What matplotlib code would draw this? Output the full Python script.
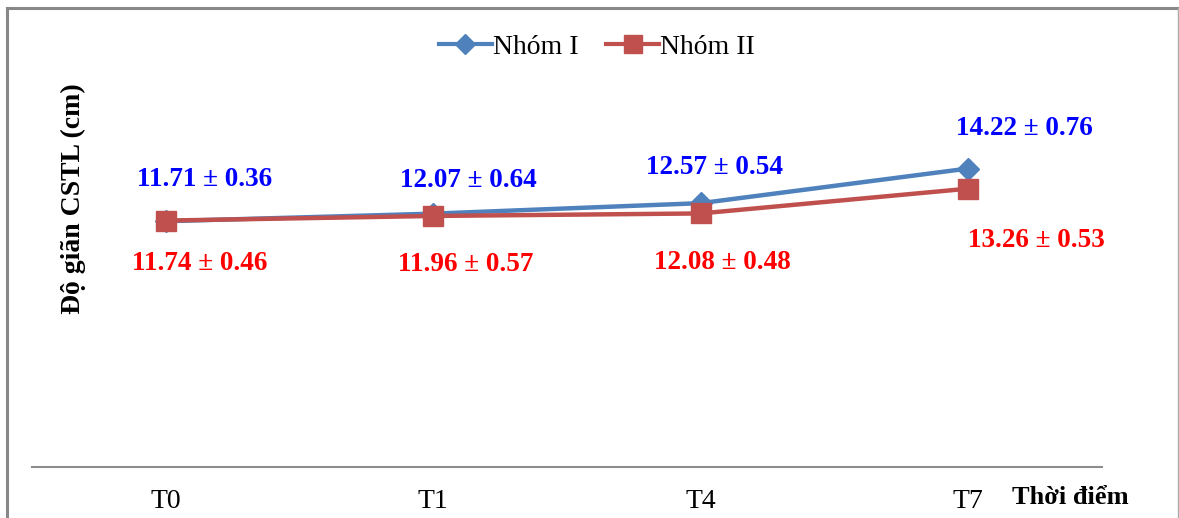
import numpy as np
import matplotlib
matplotlib.use("Agg")
import matplotlib.pyplot as plt
from matplotlib.lines import Line2D

# du lieu
thoi_diem = ["T0", "T1", "T4", "T7"]
nhom1 = [11.71, 12.07, 12.57, 14.22]
nhom1_sd = [0.36, 0.64, 0.54, 0.76]
nhom2 = [11.74, 11.96, 12.08, 13.26]
nhom2_sd = [0.46, 0.57, 0.48, 0.53]

# vi tri nhan (pixel lech so voi diem)
off1 = [(39, 42), (35, 33), (14, 36), (56, 40)]
off2 = [(34, -43), (32, -49), (22, -49), (68, -52)]

plt.rcParams['font.family'] = ['Liberation Serif', 'DejaVu Serif']

W, H = 1179, 518
fig = plt.figure(figsize=(W / 100, H / 100), dpi=100)
ax = fig.add_axes([32 / W, (H - 467) / H, (1102 - 32) / W, (467 - 43) / H])

x = np.arange(len(thoi_diem))
ax.plot(x, nhom1, color='#4F81BD', lw=3.2, marker='D', ms=11.5,
        markeredgecolor='#4F81BD', label='Nhóm I', zorder=3)
ax.plot(x, nhom2, color='#C0504D', lw=3.2, marker='s', ms=14,
        markeredgecolor='#C0504D', label='Nhóm II', zorder=4)

for i in range(len(x)):
    ax.annotate(f"{nhom1[i]:.2f} ± {nhom1_sd[i]:.2f}", (x[i], nhom1[i]),
                xytext=off1[i], textcoords='offset pixels', ha='center', va='center',
                color='#0000FF', fontsize=19.5, fontweight='bold')
    ax.annotate(f"{nhom2[i]:.2f} ± {nhom2_sd[i]:.2f}", (x[i], nhom2[i]),
                xytext=off2[i], textcoords='offset pixels', ha='center', va='center',
                color='#FF0000', fontsize=19.5, fontweight='bold')

ax.set_xlim(-0.5, len(x) - 0.5)
ax.set_ylim(0, 20.2)
ax.set_xticks(x)
ax.set_xticklabels(thoi_diem, fontsize=20)
ax.tick_params(axis='x', length=0, pad=16)
ax.set_yticks([])
for s in ['top', 'right', 'left']:
    ax.spines[s].set_visible(False)
ax.spines['bottom'].set_color('#8C8C8C')
ax.spines['bottom'].set_linewidth(1.5)

fig.text(73 / W, 1 - 199 / H, "Độ giãn CSTL (cm)", rotation=90, ha='center', va='center',
         fontsize=20, fontweight='bold')
fig.text(1070 / W, 1 - 497 / H, "Thời điểm", ha='center', va='center',
         fontsize=19, fontweight='bold')

handles = [Line2D([], [], color='#4F81BD', lw=3, marker='D', ms=10),
           Line2D([], [], color='#C0504D', lw=3, marker='s', ms=13)]
fig.legend(handles, ['Nhóm I', 'Nhóm II'], loc='center', bbox_to_anchor=(597 / W, 1 - 47 / H),
           ncol=2, frameon=False, fontsize=20, handlelength=1.9, handletextpad=0.05,
           columnspacing=1.0)

# khung vien
fig.add_artist(plt.Line2D([7 / W, 1178 / W], [1 - 8 / H, 1 - 8 / H], transform=fig.transFigure,
                          color='#888888', lw=2.2))
fig.add_artist(plt.Line2D([7 / W, 7 / W], [0, 1 - 8 / H], transform=fig.transFigure,
                          color='#888888', lw=2.2))
fig.add_artist(plt.Line2D([1178 / W, 1178 / W], [0, 1 - 8 / H], transform=fig.transFigure,
                          color='#AAAAAA', lw=1))

fig.savefig("out.png", dpi=100)
